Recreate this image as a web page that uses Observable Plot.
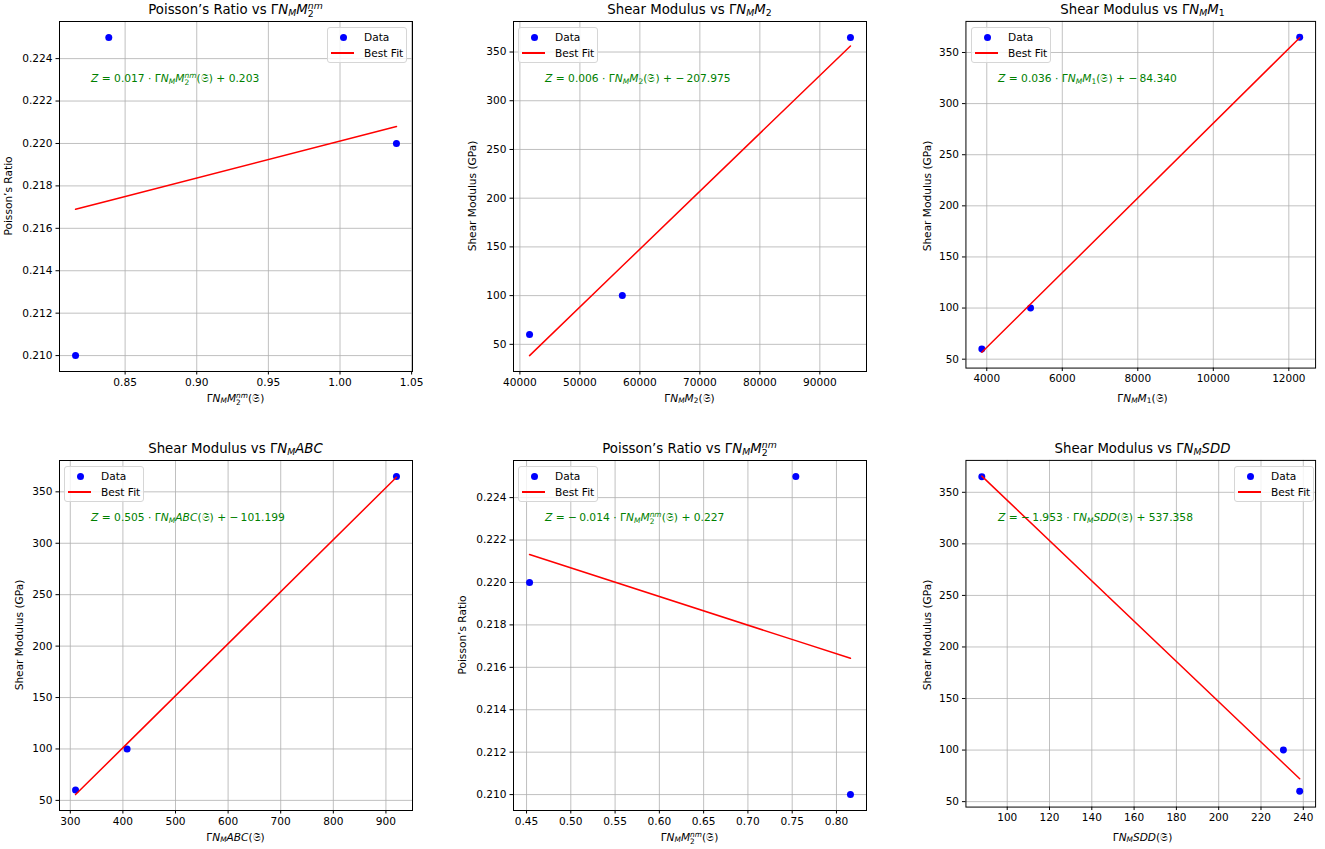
<!DOCTYPE html>
<html><head><meta charset="utf-8">
<script src="https://cdn.jsdelivr.net/npm/d3@7"></script>
<script src="https://cdn.jsdelivr.net/npm/@observablehq/plot@0.6"></script>
<style>
body{margin:0;background:#fff;overflow:hidden;font-family:"DejaVu Sans",sans-serif;color:#000}
#fig{position:relative;width:1325px;height:849px;overflow:hidden;background:#fff}
.abs{position:absolute;white-space:nowrap;line-height:1.2}
.title{font-size:13.3px;transform:translate(-50%,-50%)}
.xlab{font-size:10.6px;transform:translate(-50%,-50%)}
.ylab{font-size:10.6px;transform:translate(-50%,-50%) rotate(-90deg)}
.eq{font-size:10.7px;color:#008000;transform:translateY(-50%)}
i{font-style:italic}
.sb{font-size:0.7em;vertical-align:-0.25em}
.ss{display:inline-block;font-size:0.7em;line-height:0.9em;vertical-align:-0.35em}
.ss span{display:block}
.legend{position:absolute;width:80px;height:36px;box-sizing:border-box;border:1px solid #d6d6d6;border-radius:3px;background:rgba(255,255,255,0.8);font-size:10.6px}
.legend .ld{position:absolute;left:12px;top:6px;width:7px;height:7px;border-radius:50%;background:#0000ff}
.legend .ll{position:absolute;left:3px;top:24px;width:23px;height:1.6px;background:#ff0000}
.legend .t{position:absolute;left:36px;transform:translateY(-50%);white-space:nowrap}
.plot{position:absolute}
</style>
</head><body>
<div id="fig"></div>
<script>
// ---- data ----
const p1x = [0.8154, 0.8386, 1.0394];
const p1y = [0.210, 0.225, 0.220];
const p2x = [41608, 57073, 95100];
const p2y = [60, 100, 365];
const p3x = [3869, 5160, 12288];
const p3y = [60, 100, 365];
const p4x = [310, 408, 920];
const p4y = [60, 100, 365];
const p5x = [0.4534, 0.7541, 0.8158];
const p5y = [0.220, 0.225, 0.210];
const p6x = [88.0, 230.6, 238.3];
const p6y = [365, 100, 60];

// ---- tick labels ----
const p1xTicks = [0.85, 0.90, 0.95, 1.00, 1.05];
const p2xTicks = [40000, 50000, 60000, 70000, 80000, 90000];
const p3xTicks = [4000, 6000, 8000, 10000, 12000];
const p4xTicks = [300, 400, 500, 600, 700, 800, 900];
const p5xTicks = [0.45, 0.50, 0.55, 0.60, 0.65, 0.70, 0.75, 0.80];
const p6xTicks = [100, 120, 140, 160, 180, 200, 220, 240];
const poissonTicks = [0.210, 0.212, 0.214, 0.216, 0.218, 0.220, 0.222, 0.224];
const shearTicks = [50, 100, 150, 200, 250, 300, 350];

// ---- text ----
const G = 'Γ<i>N</i><span class="sb"><i>M</i></span>';
const M2nm = '<i>M</i><span class="ss"><span><i>nm</i></span><span>2</span></span>';
const M2 = '<i>M</i><span class="sb">2</span>';
const M1 = '<i>M</i><span class="sb">1</span>';
const FR = '(𝔖)';
const vars = [G + M2nm, G + M2, G + M1, G + '<i>ABC</i>', G + M2nm, G + '<i>SDD</i>'];
const yLabels = ["Poisson’s Ratio", "Shear Modulus (GPa)", "Shear Modulus (GPa)", "Shear Modulus (GPa)", "Poisson’s Ratio", "Shear Modulus (GPa)"];
const titlePrefix = ["Poisson’s Ratio vs ", "Shear Modulus vs ", "Shear Modulus vs ", "Shear Modulus vs ", "Poisson’s Ratio vs ", "Shear Modulus vs "];
const slopes = ["0.017", "0.006", "0.036", "0.505", "&minus;&thinsp;0.014", "&minus;&thinsp;1.953"];
const intercepts = ["0.203", "&minus;&thinsp;207.975", "&minus;&thinsp;84.340", "&minus;&thinsp;101.199", "0.227", "537.358"];
const legendLabels = ["Data", "Best Fit"];

// ---- layout ----
const layout = [
  {left: 59, top: 21, legend: "right", ylabOff: 51},
  {left: 513, top: 21, legend: "left", ylabOff: 41},
  {left: 966, top: 21, legend: "left", ylabOff: 39},
  {left: 59, top: 460, legend: "left", ylabOff: 40},
  {left: 513, top: 460, legend: "left", ylabOff: 51},
  {left: 966, top: 460, legend: "right", ylabOff: 39}
];
const xs = [p1x, p2x, p3x, p4x, p5x, p6x];
const ys = [p1y, p2y, p3y, p4y, p5y, p6y];
const xTicks = [p1xTicks, p2xTicks, p3xTicks, p4xTicks, p5xTicks, p6xTicks];
const yTicks = [poissonTicks, shearTicks, shearTicks, shearTicks, poissonTicks, shearTicks];
const xFmt = [".2f", "d", "d", "d", ".2f", "d"];
const yFmt = [".3f", "d", "d", "d", ".3f", "d"];

const W = 353, H = 350, mL = 60, mR = 10, mT = 10, mB = 30;
const fig = document.getElementById("fig");

function lsq(xv, yv) {
  const mx = d3.mean(xv), my = d3.mean(yv);
  let sxy = 0, sxx = 0;
  xv.forEach((x, i) => { sxy += (x - mx) * (yv[i] - my); sxx += (x - mx) ** 2; });
  const b = sxy / sxx, a = my - b * mx;
  return xv.map(x => ({x, y: a + b * x})).sort((p, q) => p.x - q.x);
}
function pad(ext) { const r = ext[1] - ext[0]; return [ext[0] - 0.05 * r, ext[1] + 0.05 * r]; }
function add(cls, html, style) {
  const d = document.createElement("div");
  d.className = "abs " + cls;
  d.innerHTML = html;
  Object.assign(d.style, style);
  fig.appendChild(d);
  return d;
}

const gridStyle = {stroke: "#b0b0b0", strokeOpacity: 1, strokeWidth: 0.8};

for (let i = 0; i < 6; i++) {
  const L = layout[i];
  const data = xs[i].map((x, j) => ({x, y: ys[i][j]}));
  const fit = lsq(xs[i], ys[i]);
  const xd = pad(d3.extent(xs[i]));
  const yd = pad(d3.extent(ys[i].concat(fit.map(d => d.y))));
  const svg = Plot.plot({
    width: W + mL + mR, height: H + mT + mB,
    marginLeft: mL, marginRight: mR, marginTop: mT, marginBottom: mB,
    style: {fontFamily: "DejaVu Sans", fontSize: "10.6px", color: "black", background: "transparent", overflow: "visible"},
    x: {domain: xd},
    y: {domain: yd},
    marks: [
      Plot.gridX(xTicks[i], gridStyle),
      Plot.gridY(yTicks[i], gridStyle),
      Plot.axisX(xTicks[i], {tickFormat: d3.format(xFmt[i]), tickSize: 3.5, tickPadding: 3.5, label: null, stroke: "black", fill: "black"}),
      Plot.axisY(yTicks[i], {tickFormat: d3.format(yFmt[i]), tickSize: 3.5, tickPadding: 3.5, label: null, stroke: "black", fill: "black"}),
      Plot.dot(data, {x: "x", y: "y", r: 3.5, fill: "#0000ff", stroke: null}),
      Plot.line(fit, {x: "x", y: "y", stroke: "#ff0000", strokeWidth: 1.5}),
      Plot.frame({stroke: "black", strokeWidth: 1})
    ]
  });
  const wrap = document.createElement("div");
  wrap.className = "plot";
  wrap.style.left = (L.left - mL) + "px";
  wrap.style.top = (L.top - mT) + "px";
  wrap.appendChild(svg);
  fig.appendChild(wrap);

  const cx = L.left + W / 2;
  add("title", titlePrefix[i] + vars[i], {left: cx + "px", top: (L.top - 11) + "px"});
  add("xlab", vars[i] + FR, {left: cx + "px", top: (L.top + H + 28) + "px"});
  add("ylab", yLabels[i], {left: (L.left - L.ylabOff) + "px", top: (L.top + H / 2) + "px"});
  add("eq", '<i>Z</i> = ' + slopes[i] + ' · ' + vars[i] + FR + ' + ' + intercepts[i],
      {left: (L.left + 32) + "px", top: (L.top + 59) + "px"});

  const lg = document.createElement("div");
  lg.className = "legend";
  lg.style.top = (L.top + 6) + "px";
  lg.style.left = (L.legend === "left" ? L.left + 5 : L.left + W - 5 - 80) + "px";
  lg.innerHTML = '<div class="ld"></div><div class="t" style="top:9px">' + legendLabels[0] +
    '</div><div class="ll"></div><div class="t" style="top:25px">' + legendLabels[1] + '</div>';
  fig.appendChild(lg);
}
</script>
</body></html>
